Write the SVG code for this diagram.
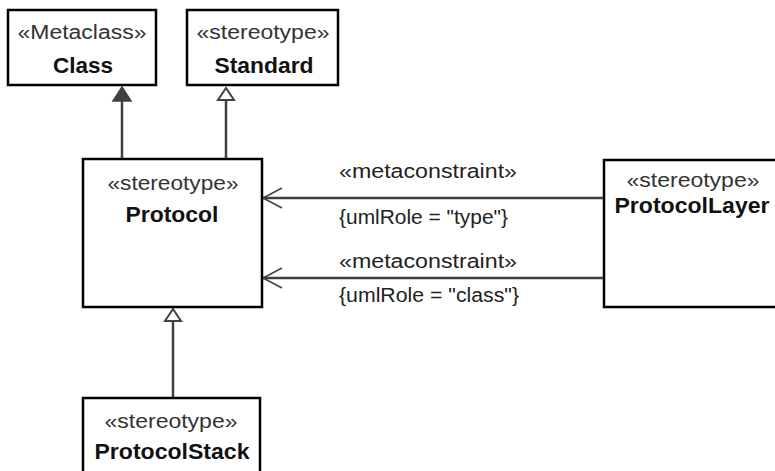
<svg xmlns="http://www.w3.org/2000/svg" width="775" height="471" viewBox="0 0 775 471">
<style>
.box{fill:#fff;stroke:#000;stroke-width:2.5}
.st{font-family:"Liberation Sans",Arial,sans-serif;font-size:20px;fill:#333;text-anchor:middle}
.nm{font-family:"Liberation Sans",Arial,sans-serif;font-size:22px;font-weight:bold;fill:#111;text-anchor:middle}
.lb{font-family:"Liberation Sans",Arial,sans-serif;font-size:20px;fill:#222}
.ln{fill:none;stroke:#404040;stroke-width:2.5}
.open{fill:none;stroke:#404040;stroke-width:1.5}
.hollow{fill:#fff;stroke:#404040;stroke-width:2}
.filled{fill:#404040;stroke:#404040;stroke-width:1.5}
</style>
<rect width="775" height="471" fill="#fff"/>
<g id="connectors">
  <line class="ln" x1="122" y1="100" x2="122" y2="159"/>
  <polygon class="filled" points="122,87 113,101 131,101"/>
  <line class="ln" x1="226" y1="100" x2="226" y2="159"/>
  <polygon class="hollow" points="226,88 218,100 234,100"/>
  <line class="ln" x1="173" y1="321" x2="173" y2="398"/>
  <polygon class="hollow" points="173,309 165,321 181,321"/>
  <line class="ln" x1="263" y1="198" x2="603" y2="198"/>
  <polyline class="open" points="282,188 263,198 282,208"/>
  <line class="ln" x1="263" y1="278" x2="603" y2="278"/>
  <polyline class="open" points="282,268 263,278 282,288"/>
  <text class="lb" x="339" y="178" textLength="178" lengthAdjust="spacingAndGlyphs">«metaconstraint»</text>
  <text class="lb" x="339" y="224" textLength="169" lengthAdjust="spacingAndGlyphs">{umlRole = "type"}</text>
  <text class="lb" x="339" y="268" textLength="178" lengthAdjust="spacingAndGlyphs">«metaconstraint»</text>
  <text class="lb" x="339" y="302" textLength="180" lengthAdjust="spacingAndGlyphs">{umlRole = "class"}</text>
</g>
<g id="class">
  <rect class="box" x="8" y="10" width="148" height="75"/>
  <text class="st" x="82" y="39" textLength="129" lengthAdjust="spacingAndGlyphs">«Metaclass»</text>
  <text class="nm" x="83" y="73" textLength="60" lengthAdjust="spacingAndGlyphs">Class</text>
</g>
<g id="standard">
  <rect class="box" x="187" y="10" width="151" height="75"/>
  <text class="st" x="263" y="39" textLength="133" lengthAdjust="spacingAndGlyphs">«stereotype»</text>
  <text class="nm" x="264" y="73" textLength="99" lengthAdjust="spacingAndGlyphs">Standard</text>
</g>
<g id="protocol">
  <rect class="box" x="83" y="159" width="179" height="148"/>
  <text class="st" x="173" y="190" textLength="131" lengthAdjust="spacingAndGlyphs">«stereotype»</text>
  <text class="nm" x="172" y="222" textLength="93" lengthAdjust="spacingAndGlyphs">Protocol</text>
</g>
<g id="protocolLayer">
  <rect class="box" x="604" y="160" width="200" height="147"/>
  <text class="st" x="693" y="187" textLength="133" lengthAdjust="spacingAndGlyphs">«stereotype»</text>
  <text class="nm" x="692" y="213" textLength="155" lengthAdjust="spacingAndGlyphs">ProtocolLayer</text>
</g>
<g id="protocolStack">
  <rect class="box" x="83" y="398" width="177" height="100"/>
  <text class="st" x="171" y="428" textLength="133" lengthAdjust="spacingAndGlyphs">«stereotype»</text>
  <text class="nm" x="172" y="459" textLength="155" lengthAdjust="spacingAndGlyphs">ProtocolStack</text>
</g>
</svg>
